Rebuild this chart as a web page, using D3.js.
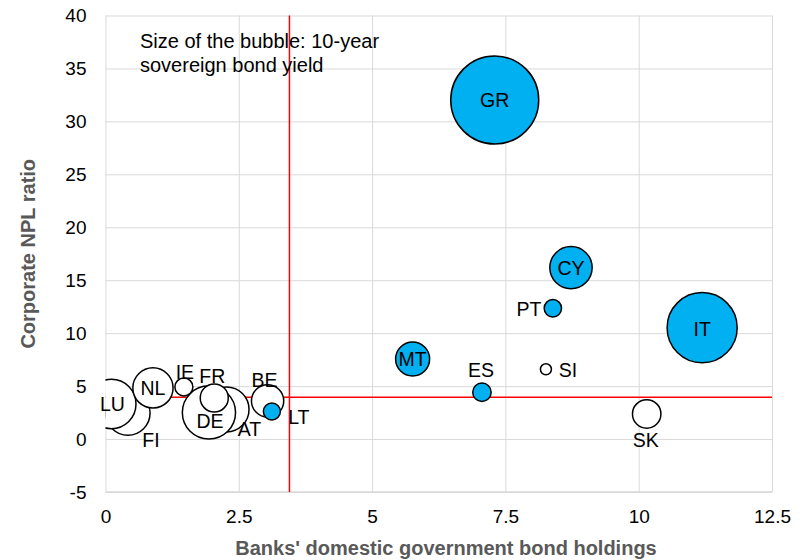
<!DOCTYPE html>
<html lang="en">
<head>
  <meta charset="UTF-8" />
  <title>Corporate NPL ratio vs domestic bond holdings</title>
  <script src="https://d3js.org/d3.v7.min.js"></script>
  <style>
    body { margin: 0; background: #fff; }
    svg text { font-family: "Liberation Sans", Arial, sans-serif; }
    .grid line { stroke: #d9d9d9; stroke-width: 1; }
    .tick text { font-size: 19px; fill: #000; }
    .axis-title { font-size: 20px; font-weight: bold; fill: #595959; }
    .bubble-label { font-size: 19.5px; fill: #000; }
  </style>
</head>
<body>
<svg id="chart" width="808" height="560"></svg>
<script>
// data, in Excel's series order (alphabetical)
const countries = ["AT", "BE", "CY", "DE", "ES", "FI", "FR", "GR", "IE", "IT", "LT", "LU", "MT", "NL", "PT", "SI", "SK"];
const bondHoldings = [2.27, 3.04, 8.73, 1.94, 7.06, 0.42, 2.04, 7.30, 1.47, 11.19, 3.12, 0.11, 5.76, 0.89, 8.39, 8.26, 10.15];
const nplRatio = [2.80, 3.60, 16.19, 2.51, 4.42, 2.46, 3.88, 32.02, 4.92, 10.52, 2.61, 3.31, 7.56, 4.83, 12.35, 6.59, 2.37];
// 10-year yield, negative ones are drawn as white bubbles
const bondYield = [-0.35, -0.18, 0.31, -0.49, 0.059, -0.34, -0.136, 1.34, -0.056, 0.85, 0.05, -0.42, 0.20, -0.28, 0.052, -0.021, -0.14];

const xThreshold = 3.45;
const yThreshold = 3.94;
const xTicks = [0, 2.5, 5, 7.5, 10, 12.5];
const yTicks = [-5, 0, 5, 10, 15, 20, 25, 30, 35, 40];

// where each label sits relative to its bubble centre (px)
const labelOffset = {
  AT: [23, 20], BE: [-3, -21], CY: [0, 0], DE: [1, 9], ES: [-1, -22], FI: [23, 27],
  FR: [-2, -22], GR: [0, 0], IE: [1, -15], IT: [0, 1], LT: [27, 6], LU: [1, 0],
  MT: [0, 0], NL: [0, 0], PT: [-24, 1], SI: [22, 1], SK: [-1, 26]
};

const svg = d3.select("#chart");
const plotLeft = 105.5, plotRight = 772, plotTop = 15.5, plotBottom = 492;
const width = plotRight - plotLeft, height = plotBottom - plotTop;

const x = d3.scaleLinear().domain([0, 12.5]).range([0, width]);
const y = d3.scaleLinear().domain([-5, 40]).range([height, 0]);
const r = d3.scaleSqrt().domain([0, 1.34]).range([0, 44]);

const g = svg.append("g").attr("transform", `translate(${plotLeft},${plotTop})`);

svg.append("defs").append("clipPath").attr("id", "plot-clip")
  .append("rect").attr("width", width).attr("height", height);

// grid + tick labels (plain hyphen for negatives, like Excel)
g.append("g").attr("class", "grid")
  .call(d3.axisLeft(y).tickValues(yTicks).tickSize(-width).tickPadding(19).tickFormat(d => String(d)))
  .call(a => a.select(".domain").remove());

g.append("g").attr("class", "grid")
  .attr("transform", `translate(0,${height})`)
  .call(d3.axisBottom(x).tickValues(xTicks).tickSize(-height).tickPadding(18).tickFormat(d => String(d)))
  .call(a => a.select(".domain").remove());

g.append("line")
  .attr("x1", 0).attr("x2", width).attr("y1", height).attr("y2", height)
  .attr("stroke", "#d9d9d9").attr("stroke-width", 1.5);

// threshold lines
g.append("line")
  .attr("x1", x(xThreshold)).attr("x2", x(xThreshold)).attr("y1", 0).attr("y2", height)
  .attr("stroke", "#ff0000").attr("stroke-width", 1.5);
g.append("line")
  .attr("x1", 0).attr("x2", width).attr("y1", y(yThreshold)).attr("y2", y(yThreshold))
  .attr("stroke", "#ff0000").attr("stroke-width", 1.5);

// bubbles
const rows = countries.map((c, i) => ({ c, x: bondHoldings[i], y: nplRatio[i], v: bondYield[i] }));

g.append("g").attr("clip-path", "url(#plot-clip)")
  .selectAll("circle").data(rows).join("circle")
  .attr("cx", d => x(d.x))
  .attr("cy", d => y(d.y))
  .attr("r", d => r(Math.abs(d.v)))
  .attr("fill", d => d.v < 0 ? "#ffffff" : "#00b0f0")
  .attr("stroke", "#000")
  .attr("stroke-width", 1.5);

g.append("g").selectAll("text").data(rows).join("text")
  .attr("class", "bubble-label")
  .attr("x", d => x(d.x) + labelOffset[d.c][0])
  .attr("y", d => y(d.y) + labelOffset[d.c][1])
  .attr("text-anchor", "middle")
  .attr("dominant-baseline", "central")
  .text(d => d.c);

// note
const note = svg.append("text").attr("x", 140).attr("y", 48)
  .style("font-size", "20px").attr("fill", "#000");
note.append("tspan").attr("x", 140).text("Size of the bubble: 10-year");
note.append("tspan").attr("x", 140).attr("dy", 24).text("sovereign bond yield");

// axis titles
svg.append("text").attr("class", "axis-title")
  .attr("x", 446).attr("y", 555)
  .attr("text-anchor", "middle")
  .text("Banks' domestic government bond holdings");

svg.append("text").attr("class", "axis-title")
  .attr("transform", `translate(28,${(plotTop + plotBottom) / 2}) rotate(-90)`)
  .attr("text-anchor", "middle")
  .attr("dominant-baseline", "central")
  .text("Corporate NPL ratio");
</script>
</body>
</html>
